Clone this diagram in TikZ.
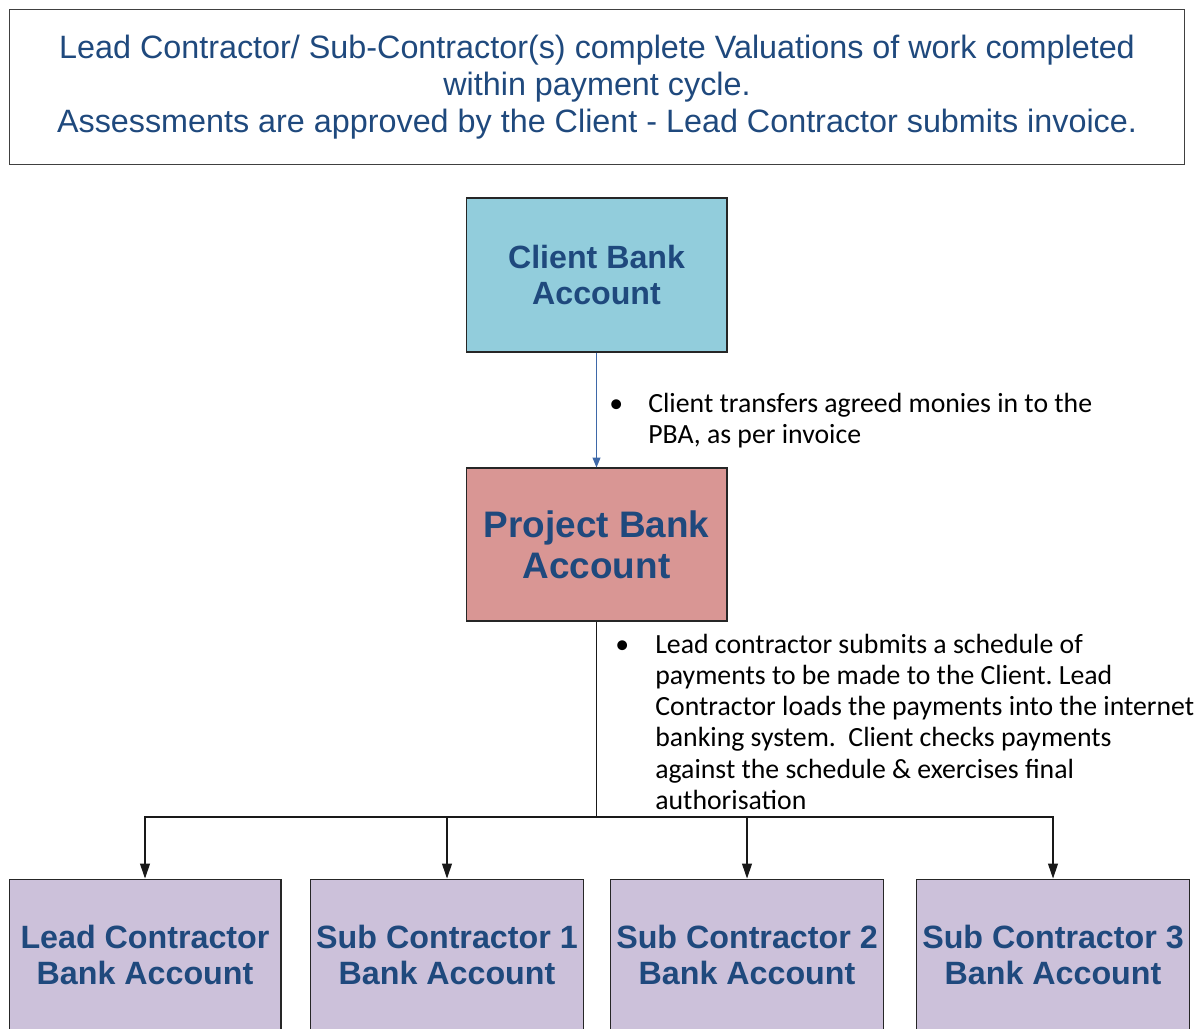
\documentclass[tikz,border=0pt]{standalone}
\usepackage{fontspec}
\setmainfont{Liberation Sans}
\newfontfamily\calibri{Carlito}
\usetikzlibrary{arrows.meta, positioning}
\definecolor{txtblue}{RGB}{31,73,125}
\definecolor{clientfill}{RGB}{146,205,220}
\definecolor{pbafill}{RGB}{217,150,148}
\definecolor{accfill}{RGB}{204,193,218}
\definecolor{linkblue}{RGB}{62,104,168}
\frenchspacing

\begin{document}
\begin{tikzpicture}[x=0.02cm, y=-0.02cm,
      box/.style={rectangle, draw=black!85, line width=0.6pt, text centered, align=center, font=\bfseries, text=txtblue},
      titlebox/.style={rectangle, draw=black!75, line width=0.6pt, minimum width=23.52cm, minimum height=3.1cm, align=center, text=txtblue, font=\fontsize{18.4}{21.2}\selectfont},
      acc/.style={box, fill=accfill, minimum width=5.44cm, minimum height=3.04cm, font=\fontsize{18.35}{20}\selectfont\bfseries},
      note/.style={anchor=base west, inner sep=0pt, font=\calibri\fontsize{15.8}{17.8}\selectfont},
      arrow/.style={-{Triangle[length=0.3cm, width=0.2cm]}, line width=0.6pt, black!90},
      bluearrow/.style={-{Triangle[length=0.2cm, width=0.16cm]}, line width=0.6pt, linkblue}
    ]
    \useasboundingbox (0,0) rectangle (1195,1028);

    \node[titlebox] (intro) at (597,87) {Lead Contractor/ Sub-Contractor(s) complete Valuations of work completed\\ within payment cycle.\\ Assessments are approved by the Client - Lead Contractor submits invoice.};

    \node[box, fill=clientfill, minimum width=5.22cm, minimum height=3.08cm, font=\fontsize{18.3}{21}\selectfont\bfseries] (client) at (596.5,275) {Client Bank\\ Account};
    \node[box, fill=pbafill, minimum width=5.22cm, minimum height=3.06cm, font=\fontsize{21}{23.3}\selectfont\bfseries] (pba) at (596.5,544.5) {Project Bank\\ Account};

    \node[acc] (leadacc) at (145,955) {Lead Contractor\\ Bank Account};
    \node[acc] (sub1acc) at (447,955) {Sub Contractor 1\\ Bank Account};
    \node[acc] (sub2acc) at (747,955) {Sub Contractor 2\\ Bank Account};
    \node[acc] (sub3acc) at (1053,955) {Sub Contractor 3\\ Bank Account};

    \node[note] (transfer) at (609,412) {\begin{tabular}[t]{@{}p{0.78cm}@{}l@{}}
      \textbullet & Client transfers agreed monies in to the\\
      & PBA, as per invoice
    \end{tabular}};
    \node[note] (schedule) at (615,653) {\begin{tabular}[t]{@{}p{0.8cm}@{}l@{}}
      \textbullet & Lead contractor submits a schedule of\\
      & payments to be made to the Client. Lead\\
      & Contractor loads the payments into the internet\\
      & banking system.\ \ Client checks payments\\
      & against the schedule \& exercises final\\
      & authorisation
    \end{tabular}};

    \coordinate (bus) at (596.5,817);

    \draw[bluearrow] (client) -- (pba);
    \draw[line width=0.6pt, black!90] (pba) -- (bus);
    \draw[arrow] (bus) -| (leadacc);
    \draw[arrow] (bus) -| (sub1acc);
    \draw[arrow] (bus) -| (sub2acc);
    \draw[arrow] (bus) -| (sub3acc);

\end{tikzpicture}
\end{document}
